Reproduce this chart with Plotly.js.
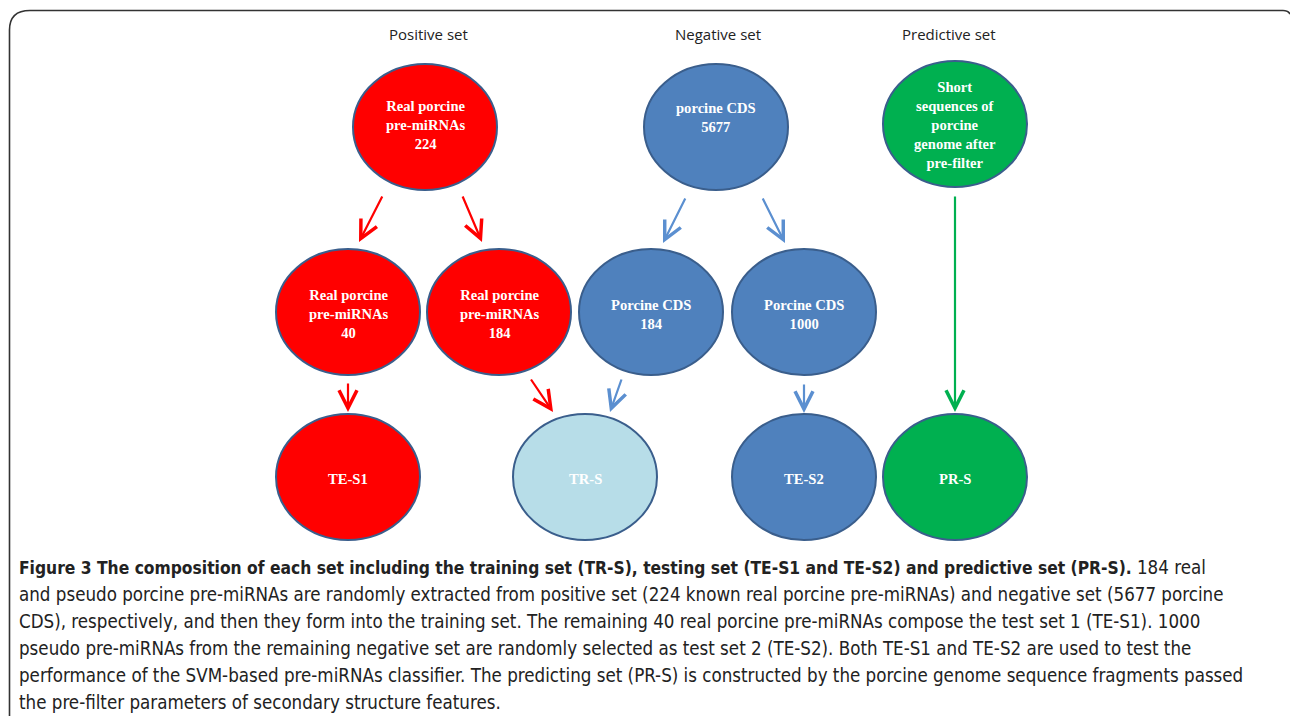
<!DOCTYPE html>
<html><head><meta charset="utf-8">
<script src="https://cdn.plot.ly/plotly-3.0.1.min.js"></script>
<style>html,body{margin:0;padding:0;background:#fff;}#chart{width:1290px;height:716px;}</style>
</head><body><div id="chart"></div>
<script>
// ---- content ----
const setTitles = ['Positive set', 'Negative set', 'Predictive set'];
const nodeLabels = [
  'Real porcine<br>pre-miRNAs<br>224',
  'porcine CDS<br>5677',
  'Short<br>sequences of<br>porcine<br>genome after<br>pre-filter',
  'Real porcine<br>pre-miRNAs<br>40',
  'Real porcine<br>pre-miRNAs<br>184',
  'Porcine CDS<br>184',
  'Porcine CDS<br>1000',
  'TE-S1',
  'TR-S',
  'TE-S2',
  'PR-S'
];
const nodeKinds = ['pos','neg','pred','pos','pos','neg','neg','pos','train','neg','pred'];
const edges = [[0,3],[0,4],[1,5],[1,6],[3,7],[4,8],[5,8],[6,9],[2,10]];
const captionBold = 'Figure 3 The composition of each set including the training set (TR-S), testing set (TE-S1 and TE-S2) and predictive set (PR-S).';
const captionLines = [
  ' 184 real',
  'and pseudo porcine pre-miRNAs are randomly extracted from positive set (224 known real porcine pre-miRNAs) and negative set (5677 porcine',
  'CDS), respectively, and then they form into the training set. The remaining 40 real porcine pre-miRNAs compose the test set 1 (TE-S1). 1000',
  'pseudo pre-miRNAs from the remaining negative set are randomly selected as test set 2 (TE-S2). Both TE-S1 and TE-S2 are used to test the',
  'performance of the SVM-based pre-miRNAs classifier. The predicting set (PR-S) is constructed by the porcine genome sequence fragments passed',
  'the pre-filter parameters of secondary structure features.'
];

// ---- layout (positions / styles) ----
const titlePos = [[428, 34], [718, 34], [949, 34]];
const nodePos = [[425,127],[716,127],[955,124],[348,312],[499,312],[651,312],[804,312],[348,477],[585,477],[804,477],[955,477]];
const textY = [125,117,125,314,314,314,314,479,479,479,479];
const rx = 72, ry = 63;
const kindColor = {pos:'#ff0000', neg:'#4f81bd', pred:'#00b050', train:'#b7dde8'};
const edgeColor = {pos:'#ff0000', neg:'#5b8fd0', pred:'#00b050'};
const edgeGeom = [
  [383,195,359,242],[462,195,482,242],
  [686,197,663,243],[762,197,785,243],
  [348,382,348,412],[530,378,553,412],[622,378,610,412],[804,383,804,413],
  [955,195,955,412]
];

const shapes = [];
const annotations = [];

// frame
shapes.push({type:'path', xref:'x', yref:'y',
  path:'M 9.5 730 L 9.5 30 Q 9.5 10.5 30 10.5 L 1283 10.5 Q 1288 10.5 1290 14',
  line:{color:'#333', width:1.6}});

nodePos.forEach((p, i) => {
  shapes.push({type:'circle', xref:'x', yref:'y', x0:p[0]-rx, x1:p[0]+rx, y0:p[1]-ry, y1:p[1]+ry,
    fillcolor: kindColor[nodeKinds[i]], line:{color:'#3a5e8c', width:2}, layer:'below'});
  annotations.push({x:p[0], y:textY[i], xref:'x', yref:'y', text:'<b>'+nodeLabels[i]+'</b>', showarrow:false,
    font:{family:'Liberation Serif, Times New Roman, serif', size:14.6, color:'#ffffff'}, align:'center'});
});

edges.forEach((e, k) => {
  const g = edgeGeom[k];
  const kind = nodeKinds[e[0]];
  annotations.push({x:g[2], y:g[3], ax:g[0], ay:g[1], xref:'x', yref:'y', axref:'x', ayref:'y',
    text:'', showarrow:true, arrowhead:5, arrowsize:1.6, arrowwidth:2.2, standoff:0,
    arrowcolor: edgeColor[kind]});
});

setTitles.forEach((t, i) => {
  annotations.push({x:titlePos[i][0], y:titlePos[i][1], xref:'x', yref:'y', text:t, showarrow:false,
    font:{family:'Open Sans, sans-serif', size:15, color:'#222'}});
});

const capFont = {family:'DejaVu Sans Condensed, Open Sans, sans-serif', size:18.6, color:'#222'};
captionLines.forEach((t, i) => {
  const txt = i === 0 ? '<span style="font-size:17.3px"><b>' + captionBold + '</b></span>' + t : t;
  annotations.push({x:17, y:567 + i*27, xref:'x', yref:'y', xanchor:'left', yanchor:'middle', text:txt,
    showarrow:false, font:capFont, align:'left'});
});

const layout = {
  width:1290, height:716, margin:{l:0,r:0,t:0,b:0},
  paper_bgcolor:'#fff', plot_bgcolor:'#fff',
  xaxis:{range:[0,1290], visible:false, fixedrange:true},
  yaxis:{range:[716,0], visible:false, fixedrange:true},
  shapes, annotations, showlegend:false
};
Plotly.newPlot('chart', [], layout, {staticPlot:true, displayModeBar:false});
</script></body></html>
